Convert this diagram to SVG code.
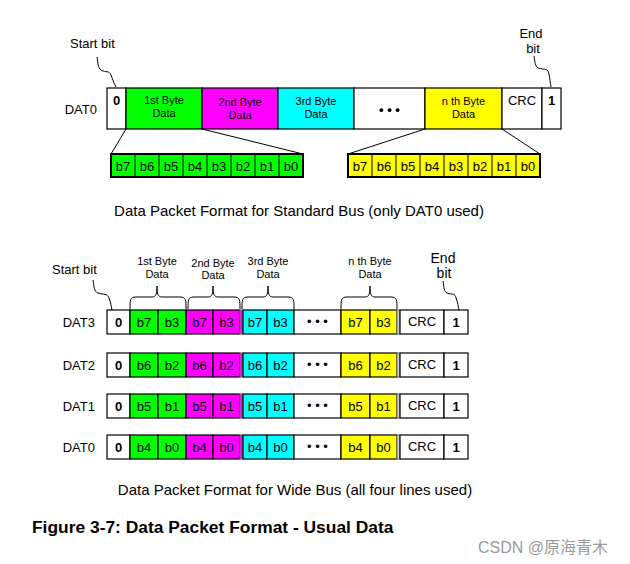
<svg xmlns="http://www.w3.org/2000/svg" width="630" height="564" viewBox="0 0 630 564">
<style>
text{font-family:"Liberation Sans",Arial,sans-serif;fill:#000}
.c{stroke:#000;stroke-width:1.2}
.g{fill:#00ff00}.m{fill:#ff00ff}.cy{fill:#00ffff}.y{fill:#ffff00}.w{fill:#fff}
.t13{font-size:13px;text-anchor:middle}
.t11{font-size:11px;text-anchor:middle}
.b{font-weight:bold}
.ln{fill:none;stroke:#000;stroke-width:1}
.lab{font-size:13px;text-anchor:end}
.cap{font-size:15px;text-anchor:middle}
</style>
<rect width="630" height="564" fill="#fff"/>

<!-- Standard bus -->
<g id="std-label"><text class="lab" x="97" y="114">DAT0</text></g>
<g id="std-row">
<rect class="c w" x="107" y="88" width="19" height="41"/>
<rect class="c g" x="126" y="88" width="76" height="41"/>
<rect class="c m" x="202" y="88" width="76" height="41"/>
<rect class="c cy" x="278" y="88" width="76" height="41"/>
<rect class="c w" x="354" y="88" width="71" height="41"/>
<rect class="c y" x="425" y="88" width="77" height="41"/>
<rect class="c w" x="502" y="88" width="40" height="41"/>
<rect class="c w" x="542" y="88" width="19" height="41"/>
<text class="t13 b" x="116.5" y="105">0</text>
<text class="t11" x="164" y="104">1st Byte</text><text class="t11" x="164" y="117">Data</text>
<text class="t11" x="240" y="106">2nd Byte</text><text class="t11" x="240" y="119">Data</text>
<text class="t11" x="316" y="105">3rd Byte</text><text class="t11" x="316" y="118">Data</text>
<text class="t13 b" x="389.5" y="114">• • •</text>
<text class="t11" x="463.5" y="105">n th Byte</text><text class="t11" x="463.5" y="118">Data</text>
<text class="t13" x="522" y="105">CRC</text>
<text class="t13 b" x="551.5" y="105">1</text>
</g>

<g id="std-bits-first">
<rect x="111" y="154" width="192" height="23" class="g" stroke="#000" stroke-width="2"/>
<g class="ln"><path d="M135,154V177M159,154V177M183,154V177M207,154V177M231,154V177M255,154V177M279,154V177"/></g>
<text class="t13" x="123" y="171">b7</text><text class="t13" x="147" y="171">b6</text><text class="t13" x="171" y="171">b5</text><text class="t13" x="195" y="171">b4</text>
<text class="t13" x="219" y="171">b3</text><text class="t13" x="243" y="171">b2</text><text class="t13" x="267" y="171">b1</text><text class="t13" x="291" y="171">b0</text>
</g>
<g id="std-bits-nth">
<rect x="348" y="154" width="192" height="23" class="y" stroke="#000" stroke-width="2"/>
<g class="ln"><path d="M372,154V177M396,154V177M420,154V177M444,154V177M468,154V177M492,154V177M516,154V177"/></g>
<text class="t13" x="360" y="171">b7</text><text class="t13" x="384" y="171">b6</text><text class="t13" x="408" y="171">b5</text><text class="t13" x="432" y="171">b4</text>
<text class="t13" x="456" y="171">b3</text><text class="t13" x="480" y="171">b2</text><text class="t13" x="504" y="171">b1</text><text class="t13" x="528" y="171">b0</text>
</g>

<g id="std-start"><text style="font-size:13px" x="70" y="48">Start bit</text></g>
<g id="std-end"><text class="t13" x="531" y="38">End</text><text class="t13" x="533" y="53">bit</text></g>
<g id="std-caption"><text class="cap" x="299" y="216">Data Packet Format for Standard Bus (only DAT0 used)</text></g>

<!-- Wide bus -->
<g id="wide-start"><text style="font-size:13px" x="52" y="274">Start bit</text></g>
<g id="wide-end"><text style="font-size:14px;text-anchor:middle" x="443" y="263">End</text><text style="font-size:14px;text-anchor:middle" x="444" y="278">bit</text></g>
<g id="wide-byte-labels">
<text class="t11" x="157" y="265">1st Byte</text><text class="t11" x="157" y="278">Data</text>
<text class="t11" x="213" y="267">2nd Byte</text><text class="t11" x="213" y="279">Data</text>
<text class="t11" x="268" y="265">3rd Byte</text><text class="t11" x="268" y="278">Data</text>
<text class="t11" x="370" y="265">n th Byte</text><text class="t11" x="370" y="278">Data</text>
</g>

<defs>
<g id="rowcells">
<rect class="c w" x="107" y="0" width="23" height="24"/>
<rect class="c g" x="130" y="0" width="28" height="24"/>
<rect class="c g" x="158" y="0" width="28" height="24"/>
<rect class="c m" x="186" y="0" width="27" height="24"/>
<rect class="c m" x="213" y="0" width="27" height="24"/>
<rect class="m" x="240" y="0" width="3" height="24" stroke="#777" stroke-width="1"/>
<rect class="c cy" x="243" y="0" width="24" height="24"/>
<rect class="c cy" x="267" y="0" width="27" height="24"/>
<rect class="c w" x="294" y="0" width="47" height="24"/>
<rect class="c y" x="341" y="0" width="29" height="24"/>
<rect class="c y" x="370" y="0" width="27" height="24"/>
<rect x="397" y="0" width="3" height="24" fill="#ccc" stroke="#777" stroke-width="1"/>
<rect class="c w" x="400" y="0" width="44" height="24"/>
<rect class="c w" x="444" y="0" width="24" height="24"/>
<text class="t13 b" x="118.5" y="17">0</text>
<text class="t13" x="317.5" y="16">• • •</text>
<text class="t13" x="422" y="16">CRC</text>
<text class="t13 b" x="456" y="17">1</text>
</g>
</defs>

<g id="wide-dat3">
<text class="lab" x="95" y="327">DAT3</text>
<use href="#rowcells" y="310"/>
<text class="t13" x="144" y="327">b7</text><text class="t13" x="172" y="327">b3</text><text class="t13" x="199.5" y="327">b7</text><text class="t13" x="226.5" y="327">b3</text><text class="t13" x="255" y="327">b7</text><text class="t13" x="280.5" y="327">b3</text><text class="t13" x="355.5" y="327">b7</text><text class="t13" x="383.5" y="327">b3</text>
</g>
<g id="wide-dat2">
<text class="lab" x="95" y="370">DAT2</text>
<use href="#rowcells" y="353"/>
<text class="t13" x="144" y="370">b6</text><text class="t13" x="172" y="370">b2</text><text class="t13" x="199.5" y="370">b6</text><text class="t13" x="226.5" y="370">b2</text><text class="t13" x="255" y="370">b6</text><text class="t13" x="280.5" y="370">b2</text><text class="t13" x="355.5" y="370">b6</text><text class="t13" x="383.5" y="370">b2</text>
</g>
<g id="wide-dat1">
<text class="lab" x="95" y="411">DAT1</text>
<use href="#rowcells" y="394"/>
<text class="t13" x="144" y="411">b5</text><text class="t13" x="172" y="411">b1</text><text class="t13" x="199.5" y="411">b5</text><text class="t13" x="226.5" y="411">b1</text><text class="t13" x="255" y="411">b5</text><text class="t13" x="280.5" y="411">b1</text><text class="t13" x="355.5" y="411">b5</text><text class="t13" x="383.5" y="411">b1</text>
</g>
<g id="wide-dat0">
<text class="lab" x="95" y="452">DAT0</text>
<use href="#rowcells" y="435"/>
<text class="t13" x="144" y="452">b4</text><text class="t13" x="172" y="452">b0</text><text class="t13" x="199.5" y="452">b4</text><text class="t13" x="226.5" y="452">b0</text><text class="t13" x="255" y="452">b4</text><text class="t13" x="280.5" y="452">b0</text><text class="t13" x="355.5" y="452">b4</text><text class="t13" x="383.5" y="452">b0</text>
</g>

<g id="wide-caption"><text class="cap" x="295" y="495">Data Packet Format for Wide Bus (all four lines used)</text></g>
<g id="figure-title"><text style="font-size:17.4px;font-weight:bold" x="32" y="533">Figure 3-7: Data Packet Format - Usual Data</text></g>
<g id="watermark"><text style="font-size:16px;fill:#999;font-family:'Liberation Sans','Noto Sans CJK SC',sans-serif" x="478" y="553">CSDN @原海青木</text></g>

<g id="connectors" class="ln">
<path d="M126,129L111,154M202,129L303,154M425,129L348,154M502,129L540,154"/>
<path d="M97,57C98,63 98,68 101,70C106,73 109,70 111,75C113,80 114,84 116,87"/>
<path d="M534,56C535,62 535,66 538,68C545,70 548,68 549,74C550,79 550,82 551,87"/>
<path d="M93,280C94,286 94,292 98,293C104,295 107,293 109,298C111,303 111,306 112,310"/>
<path d="M443,281C444,287 444,292 447,293C453,295 455,293 456,298C458,303 458,306 459,310"/>
<path d="M130,309C130,300 130,297 136,297L152,297C156,297 157,294 157,286C157,294 158,297 162,297L180,297C186,297 186,300 186,309"/>
<path d="M188,309C188,300 188,297 194,297L208,297C212,297 213,294 213,286C213,294 214,297 218,297L234,297C240,297 240,300 240,309"/>
<path d="M242,309C242,300 242,297 248,297L263,297C267,297 268,294 268,286C268,294 269,297 273,297L288,297C294,297 294,300 294,309"/>
<path d="M341,309C341,300 341,297 347,297L365,297C369,297 370,294 370,286C370,294 371,297 375,297L391,297C397,297 397,300 397,309"/>
</g>
</svg>
